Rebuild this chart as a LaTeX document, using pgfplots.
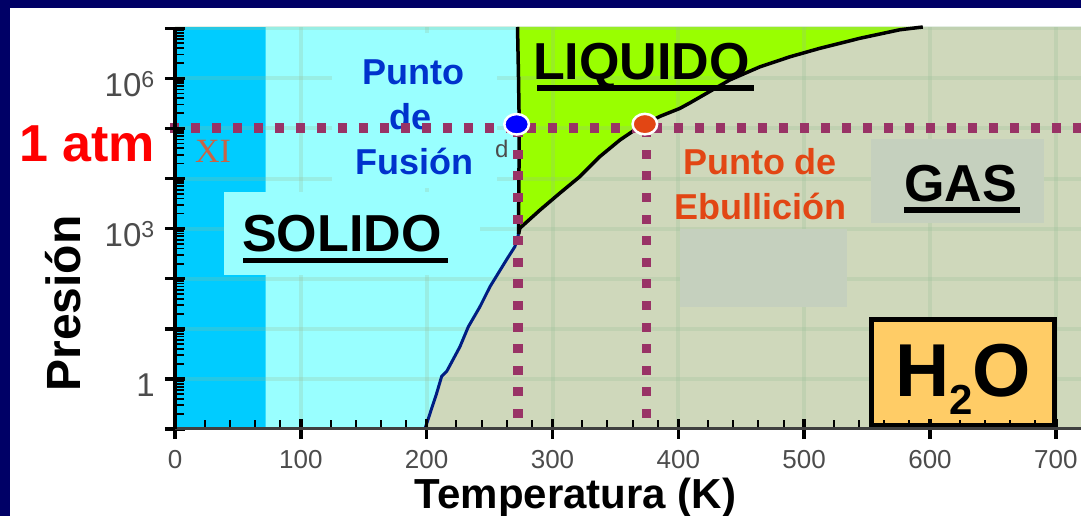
\documentclass[border=0pt]{standalone}
\usepackage{fontspec}
\setmainfont{Liberation Sans}
\newfontfamily\seriffont{Liberation Serif}
\usepackage{pgfplots}
\pgfplotsset{compat=1.18}
\definecolor{navy}{RGB}{0,0,102}
\definecolor{iceXI}{RGB}{0,204,255}
\definecolor{iceIh}{RGB}{153,255,255}
\definecolor{liq}{RGB}{153,255,0}
\definecolor{gasbg}{RGB}{207,216,187}
\definecolor{gasbox}{RGB}{197,208,190}
\definecolor{dotc}{RGB}{153,51,102}
\definecolor{fusc}{RGB}{0,51,204}
\definecolor{ebuc}{RGB}{226,70,20}
\definecolor{sublc}{RGB}{0,30,130}
\definecolor{h2oc}{RGB}{255,204,102}
\definecolor{gridc}{RGB}{150,190,150}
\definecolor{xic}{RGB}{200,100,70}
\newcommand{\fs}[1]{\fontsize{#1}{#1}\selectfont}
\tikzset{gl/.style={draw=gridc, line width=4pt, opacity=0.25}}
\begin{document}
\begin{tikzpicture}
\fill[white] (-175pt,-87pt) rectangle (906pt,429pt);
\fill[navy] (-175pt,421pt) rectangle (906pt,429pt);
\fill[navy] (-175pt,-87pt) rectangle (-165pt,429pt);
\begin{axis}[
 at={(0pt,0pt)}, anchor=south west,
 scale only axis, width=906pt, height=402pt,
 axis on top,
 clip=false,
 xmin=0, xmax=720,
 ymode=log, log basis y=10, ymin=0.1, ymax=1.06e7,
 axis x line*=bottom, axis y line*=left,
 x axis line style={black!75, line width=3pt, -},
 y axis line style={black, line width=4pt, -},
 axis background/.style={fill=gasbg},
 xtick={0,100,...,700},
 xticklabels={0,100,200,300,400,500,600,700},
 minor x tick num=4,
 ytick={0.1,1,10,100,1000,1e4,1e5,1e6,1e7},
 yticklabels={{},{1},{},{},{10\textsuperscript{3}},{},{},{10\textsuperscript{6}},{}},
 extra y ticks={0.2,0.3,0.4,0.5,0.6,0.7,0.8,0.9,2,3,4,5,6,7,8,9,20,30,40,50,60,70,80,90,200,300,400,500,600,700,800,900,2e3,3e3,4e3,5e3,6e3,7e3,8e3,9e3,2e4,3e4,4e4,5e4,6e4,7e4,8e4,9e4,2e5,3e5,4e5,5e5,6e5,7e5,8e5,9e5,2e6,3e6,4e6,5e6,6e6,7e6,8e6,9e6},
 extra y tick labels={},
 extra y tick style={tick align=inside, major tick length=9pt, major tick style={black, line width=1.8pt}},
 tick align=center,
 major tick length=20pt, minor tick length=9pt,
 major tick style={black, line width=3.5pt},
 minor tick style={black, line width=2pt, xshift=4.5pt, yshift=4.5pt},
 xticklabel style={font=\fs{26}, text=black!70, inner sep=0pt, anchor=north, yshift=-11pt},
 yticklabel style={font=\fs{33}, text=black!70, inner sep=0pt, anchor=base east, xshift=-10pt, yshift=-18pt},
]
% regions
\addplot[draw=none, fill=iceXI, mark=none] coordinates {(0,0.1) (72,0.1) (72,1.06e7) (0,1.06e7)};
\addplot[draw=none, fill=iceIh, mark=none] coordinates {(72,0.1) (198.6,0.1) (207.9,0.513) (211.9,1.12) (215.9,1.41) (226.4,4.37) (233.1,11.0) (242.3,27.5) (250.3,69.2) (263.5,240) (270.1,437) (272.8,741) (273.0,780) (273.6,1e5) (273.0,1e6) (272.2,1.06e7) (72,1.06e7)};
\addplot[draw=none, fill=liq, mark=none] coordinates {(273.0,780) (273.6,1e5) (273.0,1e6) (272.2,1.06e7) (594.3,1.06e7) (576.0,9332543) (544.3,6309573) (512.5,3981072) (488.6,2691535) (464.8,1698244) (441.0,933254) (409.2,323593) (401.2,251189) (385.3,173780) (369.5,109648) (353.6,58884) (337.7,27542) (321.8,10965) (305.9,5129) (290.0,2344) (274.1,1023)};
% grid
\pgfplotsinvokeforeach{100,200,300,400,500,600,700}{\draw[gl] (axis cs:#1,0.1) -- (axis cs:#1,1.06e7);}
\pgfplotsinvokeforeach{1,10,100,1000,1e4,1e5,1e6,1e7}{\draw[gl] (axis cs:0,#1) -- (axis cs:720,#1);}
% boxes and labels
\fill[iceIh] ([xshift=157pt,yshift=241pt]rel axis cs:0,0) rectangle ([xshift=322pt,yshift=396pt]rel axis cs:0,0);
\fill[iceIh] ([xshift=49pt,yshift=154pt]rel axis cs:0,0) rectangle ([xshift=305pt,yshift=237pt]rel axis cs:0,0);
\fill[gasbox] ([xshift=696pt,yshift=206pt]rel axis cs:0,0) rectangle ([xshift=869pt,yshift=290pt]rel axis cs:0,0);
\fill[gasbox] ([xshift=505pt,yshift=122pt]rel axis cs:0,0) rectangle ([xshift=672pt,yshift=200pt]rel axis cs:0,0);
\filldraw[fill=h2oc, draw=black, line width=5pt] ([xshift=696.5pt,yshift=3.5pt]rel axis cs:0,0) rectangle ([xshift=879.5pt,yshift=109.5pt]rel axis cs:0,0);
\node[anchor=base, inner sep=0pt, font=\fs{75}\bfseries] at ([xshift=788pt,yshift=32pt]rel axis cs:0,0) {H\raisebox{-18pt}{\fs{42}2}O};
\node[anchor=base, inner sep=0pt, text=fusc, font=\fs{36}\bfseries] at ([xshift=238pt,yshift=344pt]rel axis cs:0,0) {Punto};
\node[anchor=base, inner sep=0pt, text=fusc, font=\fs{36}\bfseries] at ([xshift=236pt,yshift=299pt]rel axis cs:0,0) {de};
\node[anchor=base, inner sep=0pt, text=fusc, font=\fs{36}\bfseries] at ([xshift=239pt,yshift=254pt]rel axis cs:0,0) {Fusión};
\node[anchor=base, inner sep=0pt, text=ebuc, font=\fs{36}\bfseries] at ([xshift=585pt,yshift=254pt]rel axis cs:0,0) {Punto de};
\node[anchor=base, inner sep=0pt, text=ebuc, font=\fs{36}\bfseries] at ([xshift=585pt,yshift=209pt]rel axis cs:0,0) {Ebullición};
\node[anchor=base west, inner sep=0pt, font=\fs{52}\bfseries] at ([xshift=67pt,yshift=177pt]rel axis cs:0,0) {SOLIDO};
\fill[black] ([xshift=68pt,yshift=166pt]rel axis cs:0,0) rectangle ([xshift=273pt,yshift=171pt]rel axis cs:0,0);
\node[anchor=base west, inner sep=0pt, font=\fs{52}\bfseries] at ([xshift=358pt,yshift=349pt]rel axis cs:0,0) {LIQUIDO};
\fill[black] ([xshift=362pt,yshift=338pt]rel axis cs:0,0) rectangle ([xshift=579pt,yshift=344pt]rel axis cs:0,0);
\node[anchor=base west, inner sep=0pt, font=\fs{52}\bfseries] at ([xshift=729pt,yshift=227pt]rel axis cs:0,0) {GAS};
\fill[black] ([xshift=729pt,yshift=216pt]rel axis cs:0,0) rectangle ([xshift=845pt,yshift=222pt]rel axis cs:0,0);
\node[anchor=base west, inner sep=0pt, text=xic, font=\fs{34}\seriffont] at ([xshift=20pt,yshift=266pt]rel axis cs:0,0) {XI};
\node[anchor=base west, inner sep=0pt, text=black!70, font=\fs{24}] at ([xshift=320pt,yshift=271pt]rel axis cs:0,0) {d};
\node[anchor=base west, inner sep=0pt, text=red, font=\fs{52}\bfseries] at ([xshift=-156pt,yshift=267pt]rel axis cs:0,0) {1 atm};
\node[anchor=base, rotate=90, inner sep=0pt, font=\fs{48}\bfseries] at ([xshift=-94pt,yshift=125.5pt]rel axis cs:0,0) {Presión};
\node[anchor=base, inner sep=0pt, font=\fs{42}\bfseries] at ([xshift=400.5pt,yshift=-79pt]rel axis cs:0,0) {Temperatura (K)};
% curves
\addplot[sublc, line width=3pt, mark=none] coordinates {(198.6,0.1) (207.9,0.513) (211.9,1.12) (215.9,1.41) (226.4,4.37) (233.1,11.0) (242.3,27.5) (250.3,69.2) (263.5,240) (270.1,437) (272.8,741) (273.0,780)};
\addplot[black, line width=3.5pt, mark=none] coordinates {(273.0,780) (273.6,1e5) (273.0,1e6) (272.2,1.06e7)};
\addplot[black, line width=3.5pt, mark=none] coordinates {(273.0,780) (274.1,1023) (290.0,2344) (305.9,5129) (321.8,10965) (337.7,27542) (353.6,58884) (369.5,109648) (385.3,173780) (401.2,251189) (409.2,323593) (441.0,933254) (464.8,1698244) (488.6,2691535) (512.5,3981072) (544.3,6309573) (576.0,9332543) (594.3,1.06e7)};
% dotted guides
\addplot[dotc, line width=9.5pt, dash pattern=on 9pt off 12pt, mark=none] coordinates {(-4,101325) (720,101325)};
\addplot[dotc, line width=9.5pt, dash pattern=on 9pt off 12.6pt, mark=none] coordinates {(272.5,0.166) (272.5,7.4e4)};
\addplot[dotc, line width=9.5pt, dash pattern=on 9pt off 12.6pt, mark=none] coordinates {(374.5,0.166) (374.5,7.4e4)};
% points
\addplot[only marks, mark=*, mark size=10.25pt, mark options={fill=blue, draw=white, line width=2.5pt, xscale=1.2}] coordinates {(271.5,1.21e5)};
\addplot[only marks, mark=*, mark size=10.25pt, mark options={fill=ebuc, draw=white, line width=2.5pt, xscale=1.2}] coordinates {(373.4,1.22e5)};
\end{axis}
\pgfresetboundingbox
\path[use as bounding box] (-175pt,-87pt) rectangle (906pt,429pt);
\end{tikzpicture}
\end{document}
